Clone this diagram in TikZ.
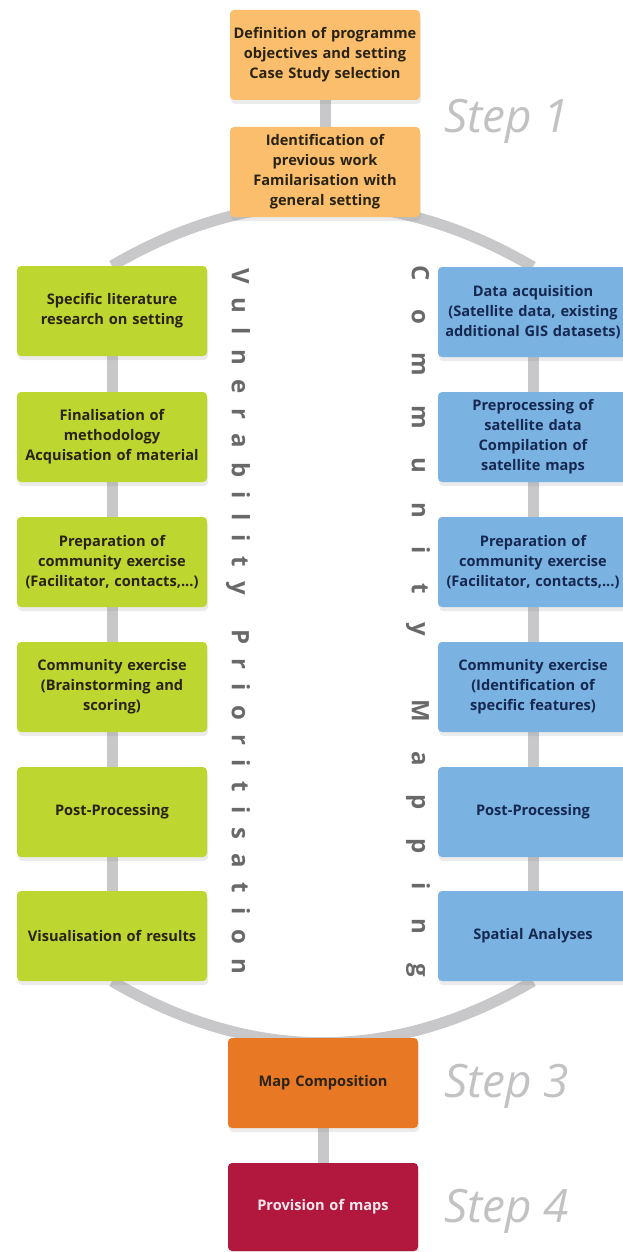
\documentclass[tikz,border=0pt]{standalone}
\usepackage{fontspec}
\setmainfont{Open Sans}
\newfontfamily\stepfont{Open Sans}
\newfontfamily\vfont{Open Sans}
\usetikzlibrary{shadows}
\pgfdeclarelayer{background}
\pgfsetlayers{background,main}

\definecolor{orangeL}{RGB}{250,190,108}
\definecolor{greenB}{RGB}{190,214,48}
\definecolor{blueB}{RGB}{122,178,226}
\definecolor{orangeD}{RGB}{232,120,36}
\definecolor{redB}{RGB}{178,24,62}
\definecolor{conn}{RGB}{200,200,203}
\definecolor{steptxt}{RGB}{194,194,196}
\definecolor{vtxt}{RGB}{105,105,105}
\definecolor{darktxt}{RGB}{40,35,20}
\definecolor{navytxt}{RGB}{22,40,80}
\definecolor{pinktxt}{RGB}{248,232,236}

\tikzset{
  box/.style={rectangle, rounded corners=4pt, minimum width=190pt, minimum height=90pt,
    text width=186pt, align=center, inner sep=0pt,
    font=\bfseries\fontsize{14.6}{20}\selectfont,
    drop shadow={opacity=0.16, shadow xshift=1pt, shadow yshift=-4pt}},
  obox/.style={box, fill=orangeL, text=darktxt},
  gbox/.style={box, fill=greenB, text=darktxt},
  bbox/.style={box, fill=blueB, text=navytxt},
  dbox/.style={box, fill=orangeD, text=darktxt},
  rbox/.style={box, fill=redB, text=pinktxt},
  link/.style={draw=conn, line width=11pt},
  steplabel/.style={anchor=base west, inner sep=0pt, font=\stepfont\itshape\fontsize{46}{46}\selectfont, text=steptxt},
  vlabel/.style={rotate=-90, inner sep=0pt, font=\vfont\bfseries\fontsize{24}{24}\selectfont, text=vtxt}
}

\begin{document}
\begin{tikzpicture}[x=1pt, y=-1pt]
\useasboundingbox (0,0) rectangle (623,1252);

% Step 1
\node[obox] (o1) at (325,55) {Definition of programme\\objectives and setting\\Case Study selection};
\node[obox] (o2) at (325,172) {Identification of\\previous work\\Familarisation with\\general setting};

% Vulnerability column
\node[gbox] (g1) at (112,311) {Specific literature\\research on setting};
\node[gbox] (g2) at (112,437) {Finalisation of\\methodology\\Acquisation of material};
\node[gbox] (g3) at (112,562) {Preparation of\\community exercise\\(Facilitator, contacts,...)};
\node[gbox] (g4) at (112,687) {Community exercise\\(Brainstorming and\\scoring)};
\node[gbox] (g5) at (112,812) {Post-Processing};
\node[gbox] (g6) at (112,936) {Visualisation of results};

% Mapping column
\node[bbox] (b1) at (533,312) {Data acquisition\\(Satellite data, existing\\additional GIS datasets)};
\node[bbox] (b2) at (533,437) {Preprocessing of\\satellite data\\Compilation of\\satellite maps};
\node[bbox] (b3) at (533,562) {Preparation of\\community exercise\\(Facilitator, contacts,...)};
\node[bbox] (b4) at (533,687) {Community exercise\\(Identification of\\specific features)};
\node[bbox] (b5) at (533,812) {Post-Processing};
\node[bbox] (b6) at (533,936) {Spatial Analyses};

% Steps 3 and 4
\node[dbox] (o3) at (323,1083) {Map Composition};
\node[rbox, minimum height=88pt] (r4) at (323,1207) {Provision of maps};

% Step labels
\node[steplabel] (s1) at (444,133) {Step 1};
\node[steplabel] (s3) at (444,1097) {Step 3};
\node[steplabel] (s4) at (444,1222) {Step 4};

% Vertical labels
\node[vlabel] (vp) at (238,621) {\makebox[706pt][s]{V\hfill u\hfill l\hfill n\hfill e\hfill r\hfill a\hfill b\hfill i\hfill l\hfill i\hfill t\hfill y\hfill\hspace{6pt}\hfill P\hfill r\hfill i\hfill o\hfill r\hfill i\hfill t\hfill i\hfill s\hfill a\hfill t\hfill i\hfill o\hfill n}};
\node[vlabel] (cm) at (418,621) {\makebox[712pt][s]{C\hfill o\hfill m\hfill m\hfill u\hfill n\hfill i\hfill t\hfill y\hfill\hspace{6pt}\hfill M\hfill a\hfill p\hfill p\hfill i\hfill n\hfill g}};

% Connectors
\begin{pgfonlayer}{background}
\draw[link] (o1) -- (o2);
\draw[link] (g1) -- (g2) -- (g3) -- (g4) -- (g5) -- (g6);
\draw[link] (b1) -- (b2) -- (b3) -- (b4) -- (b5) -- (b6);
\draw[link] (o3) -- (r4);
\draw[link] (g1.north) .. controls +(140,-82) and +(-140,-82) .. (b1.north);
\draw[link] (g6.south) .. controls +(140,82) and +(-140,82) .. (b6.south);
\end{pgfonlayer}
\end{tikzpicture}
\end{document}
